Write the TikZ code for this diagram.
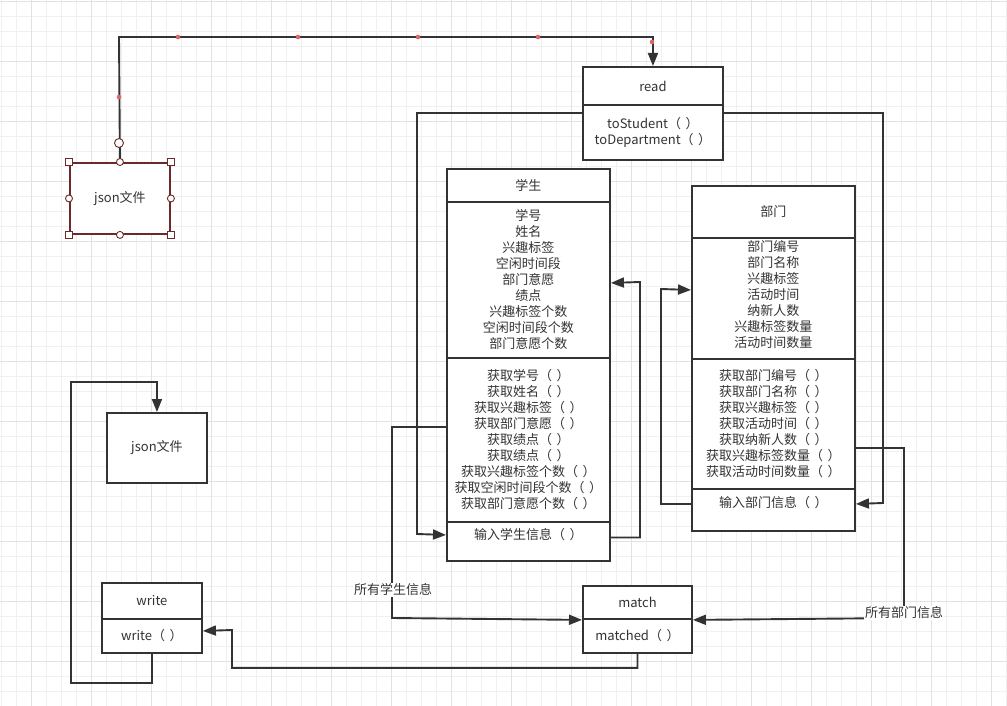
\documentclass[tikz,border=0pt]{standalone}
\usepackage{fontspec}
\setmainfont{Noto Sans CJK SC}
\usepackage{tikz}
\usepackage{xcolor}
\usetikzlibrary{arrows.meta}

\definecolor{linec}{HTML}{333333}
\definecolor{gridmin}{HTML}{F0F0F0}
\definecolor{gridmaj}{HTML}{E2E2E2}
\definecolor{selc}{HTML}{6B2A2A}
\definecolor{dotc}{HTML}{E06666}
\newcommand{\emp}{（\hspace{0.35em}）}

\begin{document}
\begin{tikzpicture}[x=1pt,y=-1pt,
  box/.style={draw=linec,line width=1.9pt,fill=white,align=center,inner sep=0pt,
    anchor=north west,font=\fontsize{13}{16}\selectfont,text=linec},
  arr/.style={draw=linec,line width=1.9pt,-{Triangle[length=13pt,width=10pt]}},
  lbl/.style={fill=white,inner sep=1pt,font=\fontsize{13}{16}\selectfont,text=linec},
  hdl/.style={draw=selc,fill=white,line width=0.9pt}]
\useasboundingbox (0,0) rectangle (1007,706);
\fill[white] (0,0) rectangle (1007,706);
% grid
\foreach \g in {1,16,...,1006} \draw[gridmin,line width=0.8pt] (\g,0) -- (\g,706);
\foreach \g in {1,16,...,706} \draw[gridmin,line width=0.8pt] (0,\g) -- (1007,\g);
\foreach \g in {31,91,...,1006} \draw[gridmaj,line width=0.8pt] (\g,0) -- (\g,706);
\foreach \g in {1,61,...,706} \draw[gridmaj,line width=0.8pt] (0,\g) -- (1007,\g);

% read
\node[box,minimum width=140,minimum height=38] (readt) at (582,66) {\raisebox{-3pt}{read}};
\node[box,minimum width=140,minimum height=55] (readm) at (582,104) {toStudent\emp\\toDepartment\emp};

% student
\node[box,minimum width=163,minimum height=33] (stut) at (446,168) {学生};
\node[box,minimum width=163,minimum height=156] (stua) at (446,201)
  {学号\\姓名\\兴趣标签\\空闲时间段\\部门意愿\\绩点\\兴趣标签个数\\空闲时间段个数\\部门意愿个数};
\node[box,minimum width=163,minimum height=164] (stum) at (446,357)
  {获取学号\emp\\获取姓名\emp\\获取兴趣标签\emp\\获取部门意愿\emp\\获取绩点\emp\\获取绩点\emp\\获取兴趣标签个数\emp\\获取空闲时间段个数\emp\\获取部门意愿个数\emp};
\node[box,minimum width=163,minimum height=39] (stuin) at (446,521) {输入学生信息\emp\\ ~};

% department
\node[box,minimum width=163,minimum height=52] (dept) at (691,185) {部门};
\node[box,minimum width=163,minimum height=121] (depa) at (691,237)
  {部门编号\\部门名称\\兴趣标签\\活动时间\\纳新人数\\兴趣标签数量\\活动时间数量\\[-7pt]~};
\node[box,minimum width=163,minimum height=130] (depm) at (691,358)
  {获取部门编号\emp\\获取部门名称\emp\\获取兴趣标签\emp\\获取活动时间\emp\\获取纳新人数\emp\\获取兴趣标签数量\emp\\获取活动时间数量\emp};
\node[box,minimum width=163,minimum height=42] (depin) at (691,488) {输入部门信息\emp\\ ~};

% match, write, files
\node[box,minimum width=109,minimum height=33] (matcht) at (582,585) {match};
\node[box,minimum width=109,minimum height=34] (matchm) at (582,618) {matched\emp};
\node[box,minimum width=100,minimum height=36] (writet) at (101,582) {write};
\node[box,minimum width=100,minimum height=34] (writem) at (101,618) {write\emp};
\node[box,minimum width=100,minimum height=70] (json2) at (106,412) {json文件};
\node[box,draw=selc,minimum width=100,minimum height=71] (json1) at (69,162) {json文件};

% connectors
\draw[arr] (json1.north) -- (119,37) -| (readt.north);
\draw[arr] ([yshift=-9pt]readm.north west) -| (417,534) -- ([yshift=6.5pt]stuin.west);
\draw[arr] ([yshift=-9pt]readm.north east) -| (883,503) -- ([yshift=6pt]depin.east);
\draw[arr] ([yshift=4pt]stuin.east) -| (640,282) -- ([yshift=-3pt]stua.east);
\draw[arr] ([yshift=6pt]depin.west) -| (661,289) -- ([yshift=8.5pt]depa.west);
\draw[arr] ([yshift=13pt]stum.west) -| (392,618) -- (matcht.south west);
\draw[arr] ([yshift=-24pt]depm.east) -| (904,618) -- (matcht.south east);
\draw[arr] (matchm.south) -- ++(0,14) -| (232,630) -- ([yshift=5pt]writem.east);
\draw[arr] (writem.south) -- ++(0,29) -| (71,382) -| (json2.north);

\node[lbl] (lblstu) at (393,590) {所有学生信息};
\node[lbl] (lbldep) at (904,613) {所有部门信息};

% selection handles
\foreach \p in {(119,97),(178,37),(298,37),(418,37),(538,37),(652,42)}
  \fill[dotc] \p circle (2.3);
\foreach \a in {north west,north east,south west,south east}
  \draw[hdl] ([xshift=-3.5pt,yshift=3.5pt]json1.\a) rectangle ++(7,7);
\foreach \a in {north,south,east,west}
  \draw[hdl] (json1.\a) circle (3.5);
\draw[hdl] (119,143) circle (4.5);
\end{tikzpicture}
\end{document}
